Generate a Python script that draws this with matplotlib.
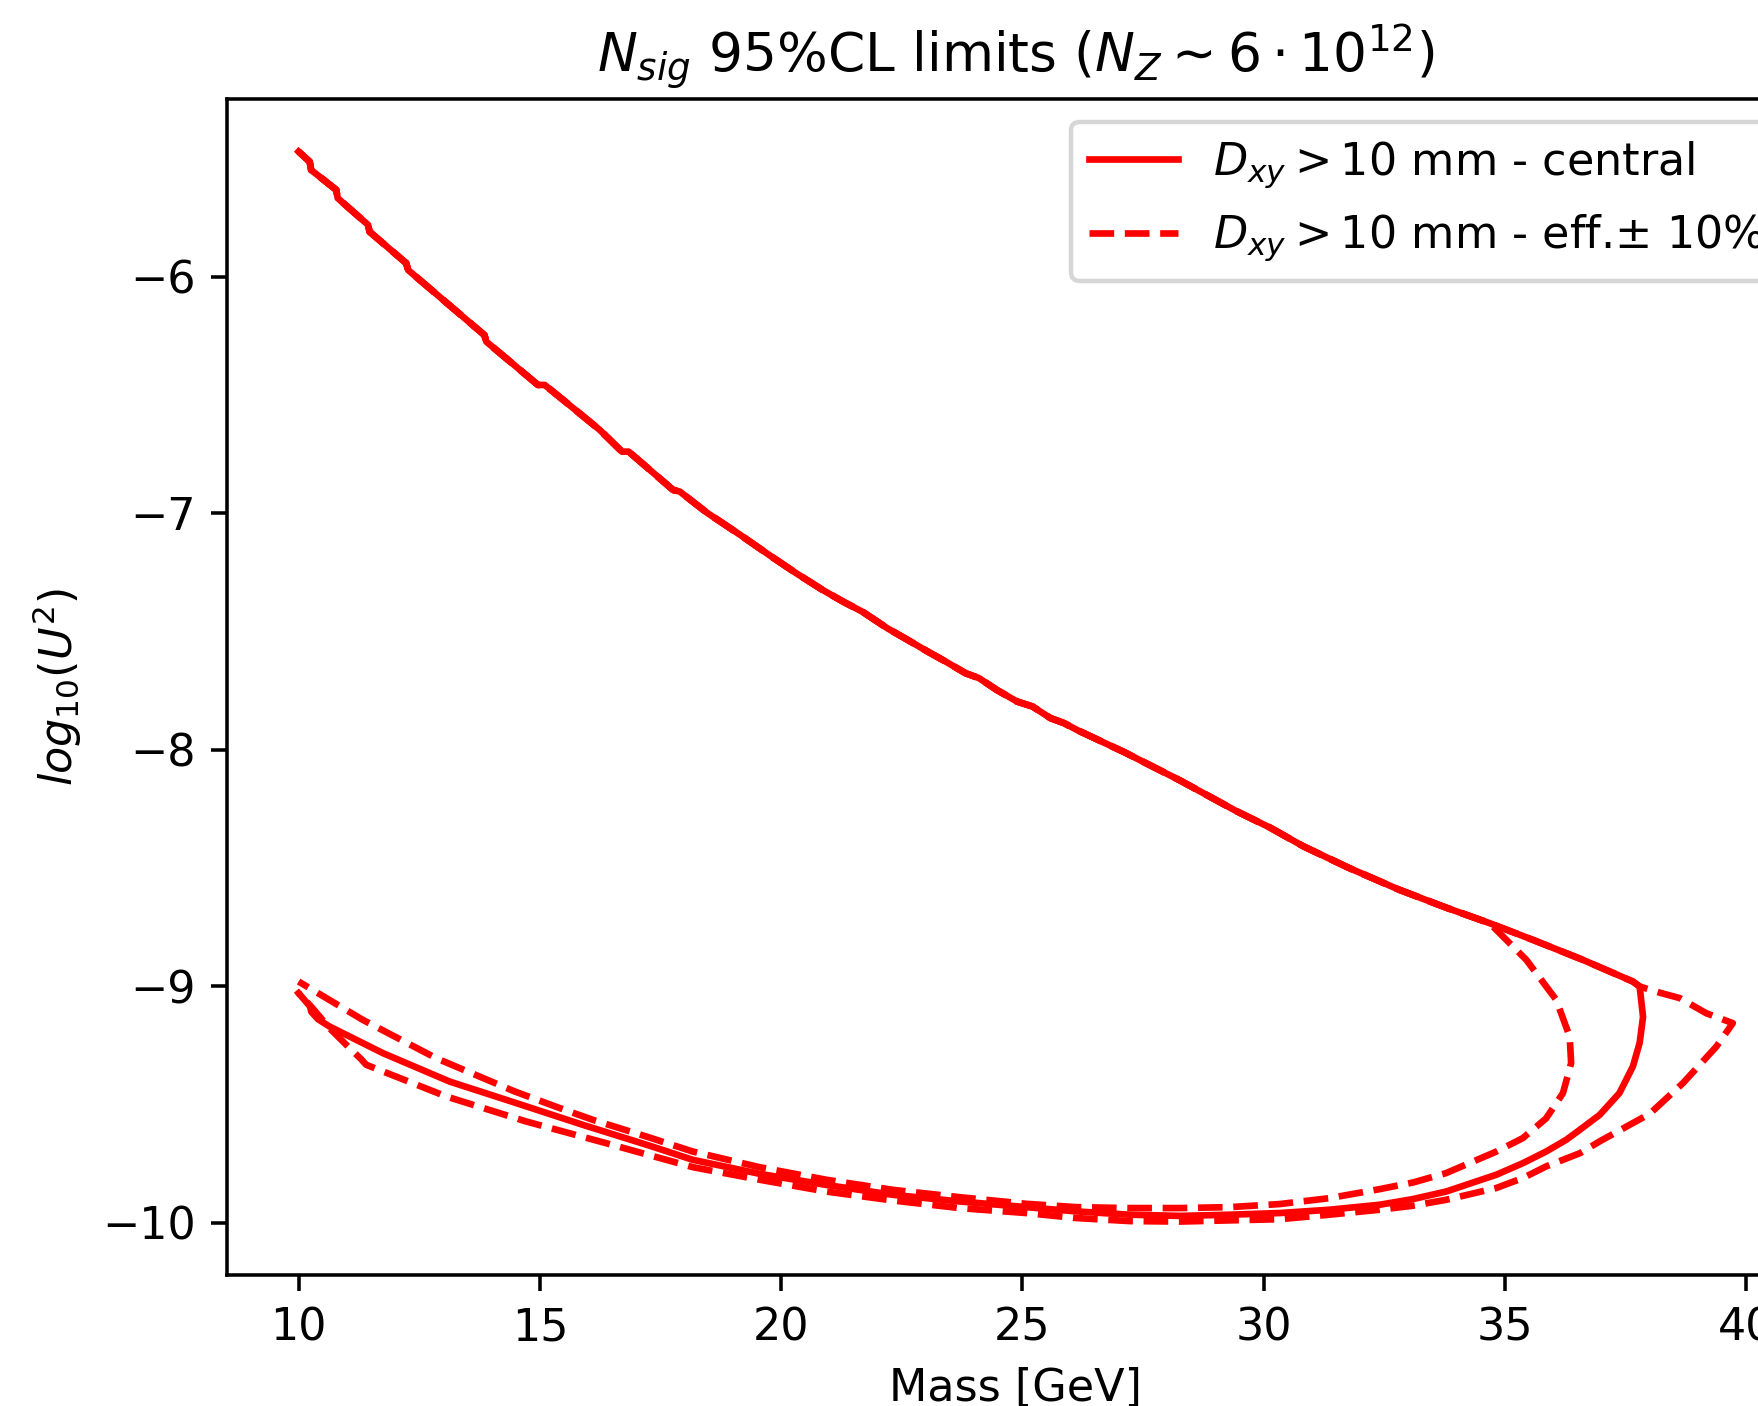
import matplotlib
matplotlib.use("Agg")
import matplotlib.pyplot as plt

# upper branch (common to all three contours)
upper_m = [10.0, 10.23, 10.26, 10.78, 10.81, 11.44, 11.47, 12.23, 12.27, 13.85,
           13.89, 14.96, 15.10, 15.48, 16.24, 16.70, 16.84, 17.76, 17.90, 18.46,
           19.15, 19.80, 20.31, 20.86, 21.28, 21.70, 22.20, 22.62, 23.04, 23.41,
           23.82, 24.10, 24.47, 24.89, 25.21, 25.58, 25.86, 26.13, 27.10, 28.26,
           29.43, 30.13, 30.83, 31.76, 32.81, 33.80, 34.68, 35.58, 36.61, 37.65,
           37.79]
upper_u = [-5.471, -5.514, -5.549, -5.633, -5.668, -5.781, -5.810, -5.943, -5.972, -6.247,
           -6.275, -6.458, -6.458, -6.521, -6.648, -6.740, -6.740, -6.902, -6.909, -6.998,
           -7.092, -7.184, -7.254, -7.325, -7.374, -7.419, -7.487, -7.536, -7.586, -7.628,
           -7.677, -7.698, -7.748, -7.797, -7.818, -7.867, -7.888, -7.917, -8.010, -8.130,
           -8.260, -8.330, -8.410, -8.500, -8.593, -8.670, -8.734, -8.805, -8.889, -8.981,
           -9.002]

# central contour, lower branch (from the turning point back to 10 GeV)
central_low_m = [37.86, 37.79, 37.65, 37.37, 36.96, 36.55, 36.27, 35.85, 35.37, 34.82,
                 33.78, 33.09, 32.40, 31.36, 30.33, 29.29, 28.26, 27.22, 26.11, 25.08,
                 23.70, 22.32, 20.93, 19.55, 18.17, 17.27, 15.89, 14.51, 13.13, 11.75,
                 10.64, 10.40, 10.26, 10.24, 10.0]
central_low_u = [-9.13, -9.24, -9.34, -9.453, -9.545, -9.608, -9.650, -9.700, -9.749, -9.798,
                 -9.869, -9.901, -9.925, -9.946, -9.960, -9.967, -9.972, -9.967, -9.953, -9.935,
                 -9.911, -9.883, -9.841, -9.794, -9.735, -9.675, -9.587, -9.495, -9.404, -9.284,
                 -9.171, -9.140, -9.108, -9.087, -9.03]

# eff. -10% contour (inner dashed), lower branch
inner_low_m = [35.44, 36.06, 36.34, 36.37, 36.20, 35.85, 35.37, 34.82, 33.78, 33.09,
               32.40, 31.36, 30.33, 29.29, 28.26, 27.22, 26.11, 25.08, 23.70, 22.32,
               20.93, 19.55, 18.17, 17.20, 16.10, 15.41, 14.48, 12.85, 11.33, 10.0]
inner_low_u = [-8.889, -9.058, -9.214, -9.326, -9.453, -9.56, -9.643, -9.700, -9.791, -9.831,
               -9.859, -9.897, -9.922, -9.935, -9.939, -9.939, -9.935, -9.921, -9.893, -9.862,
               -9.819, -9.766, -9.700, -9.636, -9.566, -9.516, -9.446, -9.305, -9.143, -8.981]

# eff. +10% contour (outer dashed), tip and lower branch
outer_tip_m = [38.24, 38.62, 39.17, 39.72]
outer_tip_u = [-9.03, -9.051, -9.115, -9.157]
outer_low_m = [39.38, 38.69, 38.0, 36.96, 36.55, 35.85, 35.37, 34.82, 33.78, 33.09,
               32.40, 31.36, 30.33, 29.29, 28.26, 27.22, 26.11, 25.08, 23.70, 22.32,
               20.93, 19.55, 18.17, 16.38, 14.72, 13.06, 12.02, 11.40, 11.30, 11.06,
               10.64, 10.26, 10.0]
outer_low_u = [-9.256, -9.41, -9.54, -9.657, -9.707, -9.763, -9.812, -9.854, -9.904, -9.929,
               -9.946, -9.967, -9.986, -9.991, -9.996, -9.994, -9.981, -9.960, -9.939, -9.907,
               -9.869, -9.819, -9.766, -9.665, -9.573, -9.467, -9.383, -9.333, -9.310, -9.263,
               -9.178, -9.087, -9.03]

# build the three contours
central_m = upper_m + central_low_m
central_u = upper_u + central_low_u

n_in = sum(1 for m in upper_m if m <= 34.68)
inner_m = upper_m[:n_in] + inner_low_m
inner_u = upper_u[:n_in] + inner_low_u

outer_m = upper_m + outer_tip_m + outer_low_m
outer_u = upper_u + outer_tip_u + outer_low_u

# figure: 1758x1406 px, axes run past the right edge like in the original
fig = plt.figure(figsize=(1758 / 320, 1406 / 320), dpi=320)
ax = fig.add_axes([226.7 / 1758, 131 / 1406, 1578 / 1758, 1175.7 / 1406])

ax.plot(central_m, central_u, color="red", linestyle="-", linewidth=1.5,
        label=r"$D_{xy} > 10$ mm - central")
ax.plot(inner_m, inner_u, color="red", linestyle="--", linewidth=1.5,
        label=r"$D_{xy} > 10$ mm - eff.$\pm$ 10%")
ax.plot(outer_m, outer_u, color="red", linestyle="--", linewidth=1.5)

ax.set_xlim(8.51, 41.21)
ax.set_ylim(-10.222, -5.25)
ax.set_xticks([10, 15, 20, 25, 30, 35, 40])
ax.set_yticks([-10, -9, -8, -7, -6])

ax.set_xlabel("Mass [GeV]")
ax.set_ylabel(r"$log_{10}(U^2)$")
ax.set_title(r"$N_{sig}$ 95%CL limits ($N_Z \sim 6 \cdot 10^{12}$)")
ax.legend(loc="upper right")

fig.savefig("out.png", dpi=320)
